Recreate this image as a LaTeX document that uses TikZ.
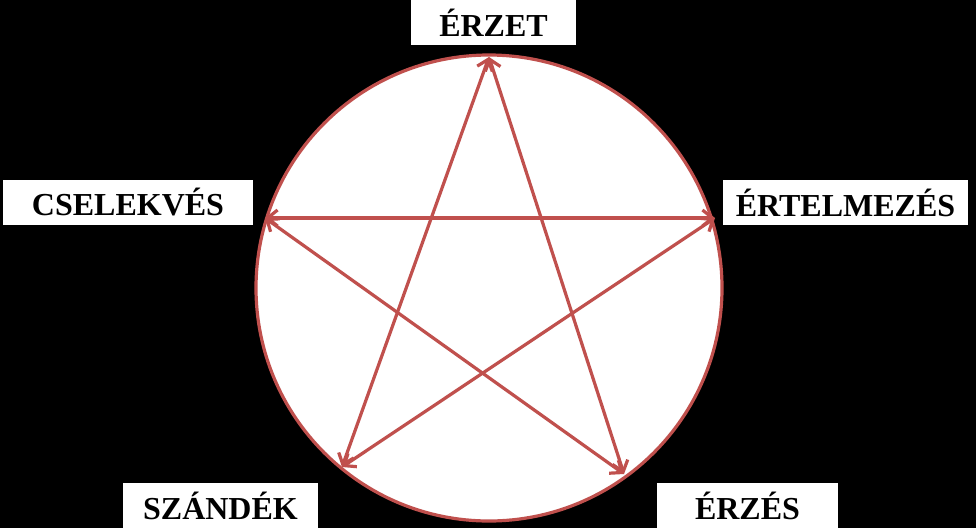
\documentclass[tikz,border=0pt]{standalone}
\usepackage{fontspec}
\setmainfont{Liberation Serif}
\usetikzlibrary{arrows.meta}
\definecolor{pred}{RGB}{192,80,77}
\begin{document}
\begin{tikzpicture}[x=1pt,y=-1pt,
  lab/.style={fill=white,draw=none,inner sep=0pt,font=\fontsize{32}{34}\selectfont\bfseries,anchor=center},
  edge/.style={draw=pred,line width=3.2pt,{Straight Barb[length=10pt,width=16pt]}-{Straight Barb[length=10pt,width=16pt]}}]
\fill[black] (0,0) rectangle (976,528);
\useasboundingbox (0,0) rectangle (976,528);
\draw[pred,fill=white,line width=3.2pt] (489,288) circle (233);
\coordinate (T) at (489,57);
\coordinate (R) at (715,218);
\coordinate (L) at (265,218);
\coordinate (BL) at (342,467);
\coordinate (BR) at (624,474);
\draw[edge] (T) -- (BL);
\draw[edge] (T) -- (BR);
\draw[edge] (L) -- (R);
\draw[edge] (L) -- (BR);
\draw[edge] (R) -- (BL);
\node[lab,minimum width=165pt,minimum height=45pt] (n1) at (493.5,22.5) {ÉRZET};
\node[lab,minimum width=250pt,minimum height=45pt] (n2) at (128,202.5) {CSELEKVÉS};
\node[lab,minimum width=245pt,minimum height=45pt] (n3) at (845.5,202.5) {ÉRTELMEZÉS};
\node[lab,minimum width=195pt,minimum height=45pt] (n4) at (220.5,505.5) {SZÁNDÉK};
\node[lab,minimum width=181pt,minimum height=45pt] (n5) at (747.5,505.5) {ÉRZÉS};
\end{tikzpicture}
\end{document}
